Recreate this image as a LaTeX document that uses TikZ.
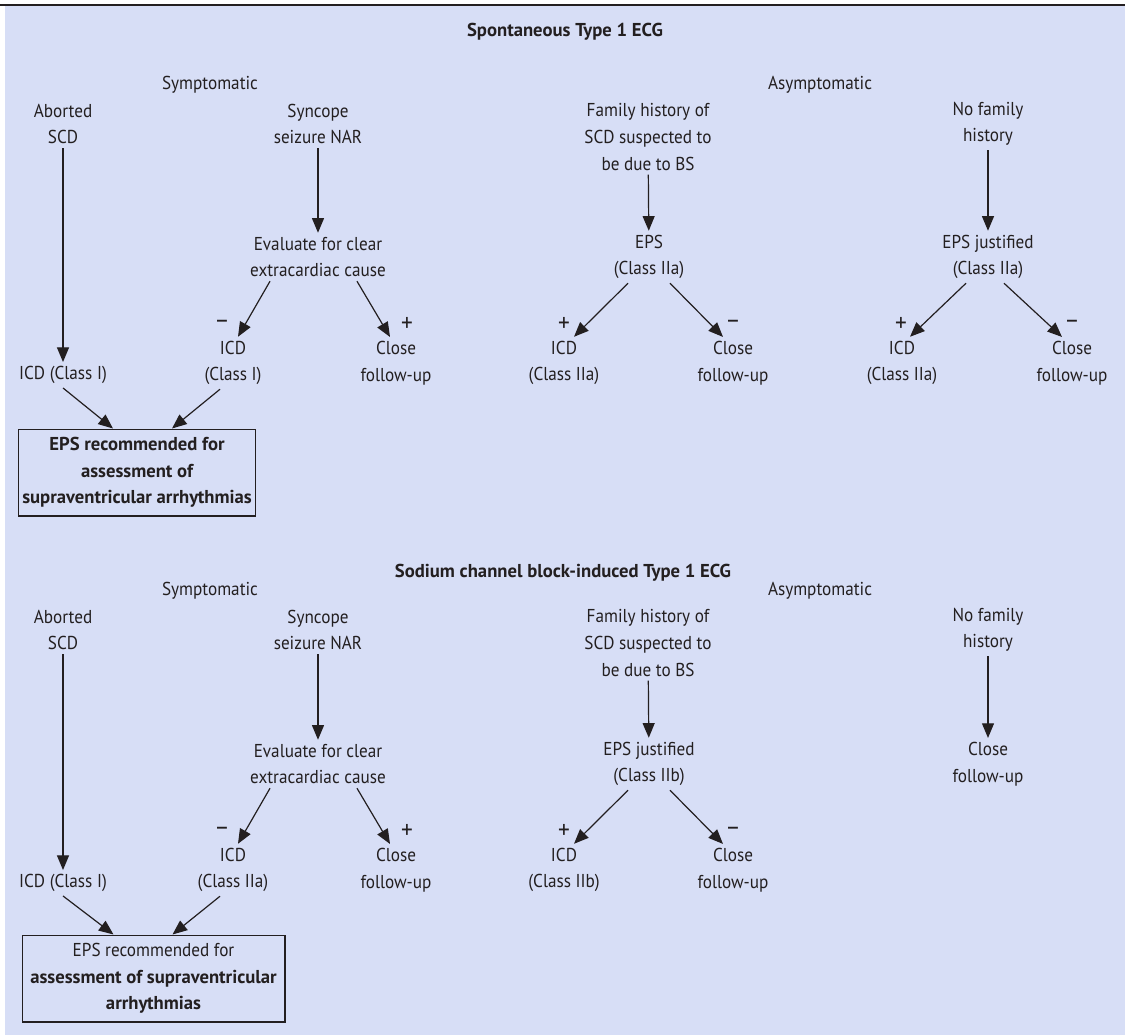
\documentclass[tikz,border=0pt]{standalone}
\usepackage{fontspec}
\setmainfont{PT Sans}[FakeStretch=0.92, BoldFeatures={FakeStretch=1.0}]
\usepackage{xcolor}
\usepackage{tikz}
\usetikzlibrary{arrows.meta,positioning,calc}
\definecolor{panelbg}{HTML}{D7DEF6}
\definecolor{ink}{HTML}{231F20}
\tikzset{
  txt/.style={align=center, inner sep=3pt, text=ink,
              font=\fontsize{14}{19.9}\selectfont},
  ttl/.style={txt, font=\fontsize{14}{19.9}\selectfont\bfseries},
  sign/.style={txt, inner sep=0pt, font=\fontsize{19}{20}\selectfont},
  recbox/.style={txt, draw=ink, line width=1pt, fill=panelbg,
                 minimum height=65pt},
  arr/.style={draw=ink, line width=0.9pt, -{Triangle[length=11pt,width=9pt]}},
}

\begin{document}
\begin{tikzpicture}[x=0.75pt, y=-0.75pt]
    \useasboundingbox (0,0) rectangle (1125,1035);
    \fill[panelbg] (5,6) rectangle (1125,1035);
    \draw[ink, line width=1.1pt] (0,5) -- (1125,5);

    % spontaneous
    \node[ttl] (title1) at (565,32) {Spontaneous Type 1 ECG};
    \node[txt] (sym1)   at (210,85)  {Symptomatic};
    \node[txt] (asym1)  at (820,85)  {Asymptomatic};
    \node[txt] (abort1) at (63,124)  {Aborted\\SCD};
    \node[txt] (sync1)  at (318,124) {Syncope\\seizure NAR};
    \node[txt] (fam1)   at (648,137) {Family history of\\SCD suspected to\\be due to BS};
    \node[txt] (nofam1) at (988,124) {No family\\history};
    \node[txt] (eval1)  at (318,257) {Evaluate for clear\\extracardiac cause};
    \node[txt] (eps1)   at (649,257) {EPS\\(Class IIa)};
    \node[txt] (epsj1)  at (988,257) {EPS justified\\(Class IIa)};
    \node[txt] (icd1a)  at (63,375)  {ICD (Class I)};
    \node[txt] (icd1b)  at (233,363) {ICD\\(Class I)};
    \node[txt] (close1a) at (396,363) {Close\\follow-up};
    \node[txt] (icd1c)  at (564,363) {ICD\\(Class IIa)};
    \node[txt] (close1b) at (733,363) {Close\\follow-up};
    \node[txt] (icd1d)  at (902,363) {ICD\\(Class IIa)};
    \node[txt] (close1c) at (1072,363) {Close\\follow-up};
    \node[recbox, minimum width=172.5pt, font=\fontsize{14}{19.9}\selectfont\bfseries]
      (box1) at (137,472.5) {EPS recommended for\\assessment of\\supraventricular arrhythmias};
    \node[sign] (s1a) at (222,324) {--};
    \node[sign] (s1b) at (407,324) {+};
    \node[sign] (s1c) at (564,324) {+};
    \node[sign] (s1d) at (733,324) {--};
    \node[sign] (s1e) at (901,324) {+};
    \node[sign] (s1f) at (1072,324) {--};

    \draw[arr] (abort1) -- (icd1a);
    \draw[arr] (sync1) -- (eval1);
    \draw[arr] (fam1) -- (eps1);
    \draw[arr] (nofam1) -- (epsj1);
    \draw[arr] ($(eval1.south)+(-48,0)$) -- ($(icd1b.north)+(5,0)$);
    \draw[arr] ($(eval1.south)+(39,0)$) -- ($(close1a.north)+(-6,0)$);
    \draw[arr] ($(eps1.south)+(-21,0)$) -- ($(icd1c.north)+(10,0)$);
    \draw[arr] ($(eps1.south)+(21,0)$) -- ($(close1b.north)+(-10,0)$);
    \draw[arr] ($(epsj1.south)+(-22,0)$) -- ($(icd1d.north)+(8,0)$);
    \draw[arr] ($(epsj1.south)+(16,0)$) -- ($(close1c.north)+(-10,0)$);
    \draw[arr] (icd1a.south) -- ($(box1.north)+(-24,0)$);
    \draw[arr] ($(icd1b.south)+(-13,0)$) -- ($(box1.north)+(35,0)$);

    % sodium channel block
    \node[ttl] (title2) at (563,573) {Sodium channel block-induced Type 1 ECG};
    \node[txt] (sym2)   at (210,591) {Symptomatic};
    \node[txt] (asym2)  at (820,591) {Asymptomatic};
    \node[txt] (abort2) at (63,630)  {Aborted\\SCD};
    \node[txt] (sync2)  at (318,630) {Syncope\\seizure NAR};
    \node[txt] (fam2)   at (648,643) {Family history of\\SCD suspected to\\be due to BS};
    \node[txt] (nofam2) at (988,630) {No family\\history};
    \node[txt] (eval2)  at (318,764) {Evaluate for clear\\extracardiac cause};
    \node[txt] (eps2)   at (649,764) {EPS justified\\(Class IIb)};
    \node[txt] (close2c) at (988,764) {Close\\follow-up};
    \node[txt] (icd2a)  at (63,883)  {ICD (Class I)};
    \node[txt] (icd2b)  at (233,870) {ICD\\(Class IIa)};
    \node[txt] (close2a) at (396,870) {Close\\follow-up};
    \node[txt] (icd2c)  at (564,870) {ICD\\(Class IIb)};
    \node[txt] (close2b) at (733,870) {Close\\follow-up};
    \node[recbox, minimum width=197pt]
      (box2) at (153.5,978.5) {EPS recommended for\\\textbf{assessment of supraventricular}\\\textbf{arrhythmias}};
    \node[sign] (s2a) at (222,831) {--};
    \node[sign] (s2b) at (407,831) {+};
    \node[sign] (s2c) at (564,831) {+};
    \node[sign] (s2d) at (733,831) {--};

    \draw[arr] (abort2) -- (icd2a);
    \draw[arr] (sync2) -- (eval2);
    \draw[arr] (fam2) -- (eps2);
    \draw[arr] (nofam2) -- (close2c);
    \draw[arr] ($(eval2.south)+(-48,0)$) -- ($(icd2b.north)+(5,0)$);
    \draw[arr] ($(eval2.south)+(39,0)$) -- ($(close2a.north)+(-6,0)$);
    \draw[arr] ($(eps2.south)+(-21,0)$) -- ($(icd2c.north)+(10,0)$);
    \draw[arr] ($(eps2.south)+(21,0)$) -- ($(close2b.north)+(-10,0)$);
    \draw[arr] (icd2a.south) -- ($(box2.north)+(-40,0)$);
    \draw[arr] ($(icd2b.south)+(-13,0)$) -- ($(box2.north)+(19,0)$);
\end{tikzpicture}
\end{document}
